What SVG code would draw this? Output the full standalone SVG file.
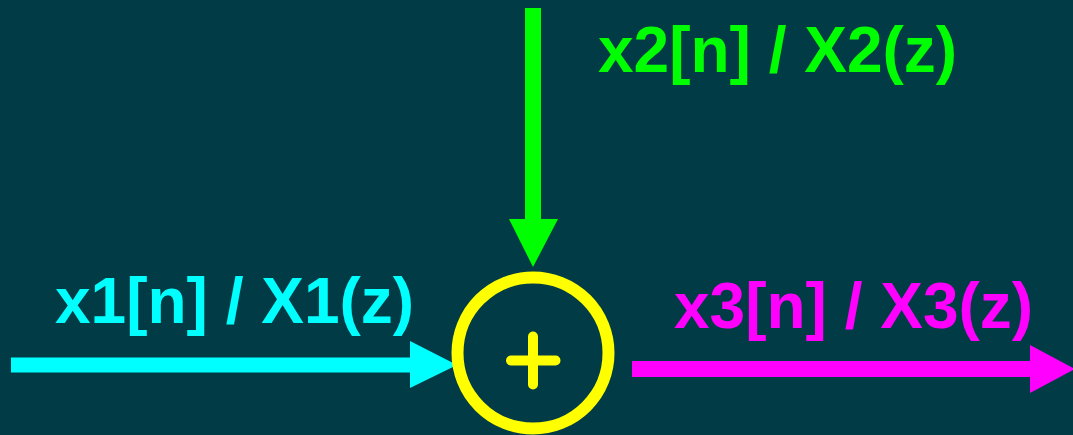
<svg xmlns="http://www.w3.org/2000/svg" width="1073" height="435" viewBox="0 0 1073 435">
<style>
.lbl{font-family:"Liberation Sans",Arial,sans-serif;font-weight:bold;font-size:64px}
</style>
<rect width="1073" height="435" fill="#013c46"/>
<g id="connectors">
<g id="x1-in" fill="#00ffff">
<rect x="11" y="357.5" width="400" height="15"/>
<polygon points="410,341 457,365 410,388"/>
</g>
<g id="x2-in" fill="#00ff00">
<rect x="525" y="8" width="16" height="212"/>
<polygon points="509,219 558,219 533,267"/>
</g>
<g id="x3-out" fill="#ff00ff">
<rect x="632" y="361" width="399" height="16"/>
<polygon points="1030,345 1075,369 1030,393"/>
</g>
</g>
<g id="sum">
<circle cx="533" cy="353" r="75.5" fill="none" stroke="#ffff00" stroke-width="12"/>
<path d="M533,336.5 V384.5 M511,360.5 H555.5" stroke="#ffff00" stroke-width="10" stroke-linecap="round" fill="none"/>
</g>
<g id="labels">
<text class="lbl" x="55" y="323" fill="#00ffff">x1[n] / X1(z)</text>
<text class="lbl" x="598" y="72" fill="#00ff00">x2[n] / X2(z)</text>
<text class="lbl" x="674" y="328" fill="#ff00ff">x3[n] / X3(z)</text>
</g>
</svg>
